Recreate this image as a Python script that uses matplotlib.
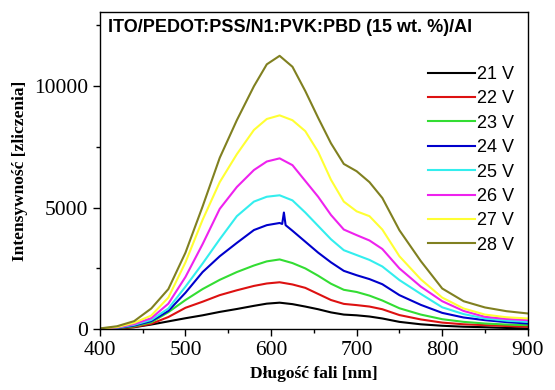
import numpy as np
import matplotlib
matplotlib.use("Agg")
import matplotlib.pyplot as plt
from matplotlib.ticker import MultipleLocator

# wavelength grid [nm]
wl = [400, 420, 440, 460, 480, 500, 520, 540, 560, 580, 595, 610, 625, 640,
      655, 670, 685, 700, 715, 730, 750, 775, 800, 825, 850, 875, 900]

# intensities [counts]
i_21 = [0, 25, 80, 190, 320, 450, 570, 710, 830, 960, 1050, 1090, 1030, 930,
        820, 690, 600, 570, 520, 440, 300, 200, 140, 100, 80, 50, 30]
i_22 = [5, 30, 90, 220, 500, 880, 1130, 1400, 1600, 1780, 1880, 1930, 1840, 1700,
        1450, 1200, 1040, 990, 930, 820, 580, 400, 270, 200, 165, 130, 100]
i_23 = [5, 40, 120, 280, 700, 1200, 1650, 2030, 2350, 2620, 2790, 2870, 2720, 2500,
        2200, 1870, 1620, 1530, 1380, 1180, 860, 600, 410, 300, 233, 190, 165]
i_24 = [10, 50, 150, 330, 750, 1500, 2350, 3000, 3550, 4080, 4280, 4370, 4050, 3600,
        3150, 2750, 2400, 2220, 2060, 1850, 1400, 1000, 670, 480, 370, 290, 233]
i_25 = [10, 60, 180, 380, 850, 1750, 2700, 3700, 4650, 5250, 5450, 5510, 5300, 4800,
        4250, 3700, 3250, 3050, 2850, 2580, 2020, 1450, 900, 620, 440, 350, 300]
i_26 = [15, 70, 210, 450, 1050, 2150, 3500, 4950, 5850, 6550, 6900, 7030, 6750, 6100,
        5450, 4700, 4100, 3870, 3650, 3300, 2500, 1750, 1150, 750, 506, 420, 370]
i_27 = [20, 90, 260, 560, 1300, 2750, 4500, 6050, 7200, 8200, 8650, 8800, 8600, 8150,
        7300, 6150, 5250, 4850, 4650, 4100, 3000, 2050, 1300, 850, 600, 490, 440]
i_28 = [30, 120, 330, 850, 1650, 3150, 5050, 7050, 8600, 10000, 10900, 11250, 10800, 9800,
        8700, 7650, 6800, 6500, 6050, 5400, 4070, 2800, 1673, 1150, 893, 740, 646]

# narrow spike in the 24 V spectrum
spike_wl = [613, 615, 617]
spike_24 = [4330, 4800, 4280]

labels = ["21 V", "22 V", "23 V", "24 V", "25 V", "26 V", "27 V", "28 V"]
series = [i_21, i_22, i_23, i_24, i_25, i_26, i_27, i_28]
colors = ["#000000", "#dd1111", "#33dd33", "#0000cc", "#33eeee", "#ee22ee", "#ffff33", "#808020"]

fig = plt.figure(figsize=(5.55, 3.9), dpi=100)
ax = fig.add_axes([0.180, 0.156, 0.771, 0.813])

for lab, y, c in zip(labels, series, colors):
    x = np.array(wl, dtype=float)
    yy = np.array(y, dtype=float)
    if lab == "24 V":
        x = np.concatenate([x, spike_wl])
        yy = np.concatenate([yy, spike_24])
        order = np.argsort(x)
        x, yy = x[order], yy[order]
    ax.plot(x, yy, color=c, lw=1.5, label=lab)

ax.set_xlim(400, 900)
ax.set_ylim(0, 13050)
ax.xaxis.set_major_locator(MultipleLocator(100))
ax.xaxis.set_minor_locator(MultipleLocator(50))
ax.yaxis.set_major_locator(MultipleLocator(5000))
ax.yaxis.set_minor_locator(MultipleLocator(2500))
ax.tick_params(which="both", direction="out", top=False, right=False)
ax.tick_params(which="major", length=5, width=1)
ax.tick_params(which="minor", length=3, width=1)
for sp in ax.spines.values():
    sp.set_linewidth(1.0)

for t in ax.get_xticklabels() + ax.get_yticklabels():
    t.set_fontfamily("Liberation Serif")
    t.set_fontsize(15.5)

ax.set_xlabel("Długość fali [nm]", fontfamily="Liberation Serif", fontweight="bold", fontsize=12.5)
ax.set_ylabel("Intensywność [zliczenia]", fontfamily="Liberation Serif", fontweight="bold", fontsize=12.5)

ax.text(0.02, 0.95, "ITO/PEDOT:PSS/N1:PVK:PBD (15 wt. %)/Al", transform=ax.transAxes,
        fontfamily="Liberation Sans", fontweight="bold", fontsize=13, va="center", ha="left")

ax.legend(loc="upper left", bbox_to_anchor=(0.749, 0.853), frameon=False,
          prop={"family": "Liberation Sans", "size": 13}, handlelength=2.6,
          handletextpad=0.15, labelspacing=0.41, borderaxespad=0)

fig.savefig("out.png", dpi=100)
